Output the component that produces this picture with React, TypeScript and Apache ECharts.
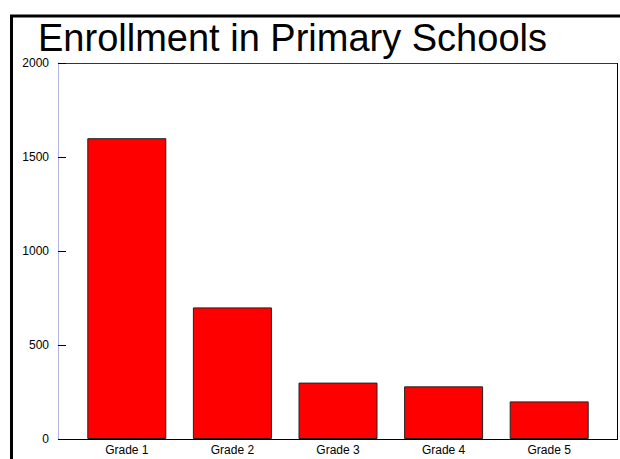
import React, { useEffect, useRef } from "react";
import * as echarts from "echarts";

const categories = ["Grade 1", "Grade 2", "Grade 3", "Grade 4", "Grade 5"];
const enrollment = [1600, 700, 300, 280, 200];
const yTicks = { min: 0, max: 2000, interval: 500 };
const titleText = "Enrollment in Primary Schools";

export default function App() {
  const ref = useRef<HTMLDivElement>(null);
  useEffect(() => {
    if (!ref.current) return;
    const chart = echarts.init(ref.current, null, { renderer: "svg" });
    const font = "'Liberation Sans', Arial, sans-serif";
    chart.setOption({
      animation: false,
      backgroundColor: "#ffffff",
      title: {
        text: titleText,
        left: 33,
        top: 14,
        textStyle: { fontFamily: font, fontSize: 38, fontWeight: "normal", color: "#000" },
      },
      grid: { left: 74, right: 18, top: 63, bottom: 20, containLabel: false },
      xAxis: {
        type: "category",
        data: categories,
        axisLine: { show: false },
        axisTick: { show: false },
        axisLabel: { color: "#000", fontFamily: font, fontSize: 12, margin: 5 },
      },
      yAxis: {
        type: "value",
        min: yTicks.min,
        max: yTicks.max,
        interval: yTicks.interval,
        offset: 16,
        axisLine: { show: true, lineStyle: { color: "#b4b4e8", width: 1 } },
        axisTick: { show: true, inside: true, length: 8, lineStyle: { color: "#000" } },
        splitLine: { show: false },
        axisLabel: {
          color: "#000",
          fontFamily: font,
          fontSize: 12,
          margin: 9,
          padding: [5, 0, 0, 0],
          formatter: (v: number) => String(v),
        },
      },
      series: [
        {
          type: "bar",
          data: enrollment,
          barWidth: 79,
          itemStyle: { color: "#ff0000", borderColor: "#222", borderWidth: 1 },
        },
      ],
      graphic: [
        { type: "line", shape: { x1: 58, y1: 63.5, x2: 618, y2: 63.5 }, style: { stroke: "#2828a0", lineWidth: 1 } },
        { type: "line", shape: { x1: 617.5, y1: 63, x2: 617.5, y2: 439 }, style: { stroke: "#000", lineWidth: 1 } },
        { type: "line", shape: { x1: 58, y1: 439.5, x2: 618, y2: 439.5 }, style: { stroke: "#000", lineWidth: 1 } },
        { type: "line", shape: { x1: 11.5, y1: 15, x2: 11.5, y2: 459 }, style: { stroke: "#000", lineWidth: 3 } },
        { type: "line", shape: { x1: 10, y1: 16, x2: 620, y2: 16 }, style: { stroke: "#000", lineWidth: 3 } },
      ],
    });
    return () => chart.dispose();
  }, []);
  return <div ref={ref} style={{ width: 620, height: 459, position: "absolute", left: 0, top: 0 }} />;
}
